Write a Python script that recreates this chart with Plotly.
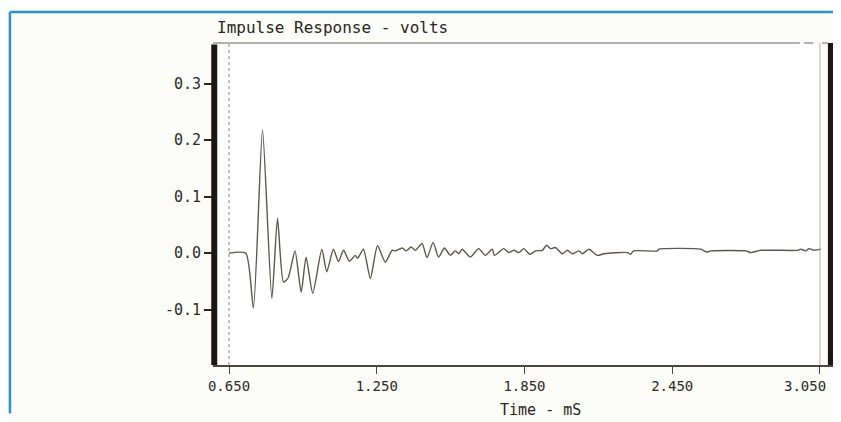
import plotly.graph_objects as go

# Impulse response
time_ms = [0.650, 0.718, 0.749, 0.786, 0.824, 0.847, 0.871, 0.890, 0.918, 0.943,
           0.963, 0.990, 1.027, 1.047, 1.074, 1.095, 1.115, 1.139, 1.163, 1.172,
           1.196, 1.224, 1.253, 1.285, 1.312, 1.325, 1.353, 1.370, 1.389, 1.407,
           1.434, 1.454, 1.479, 1.501, 1.525, 1.549, 1.569, 1.583, 1.597, 1.630,
           1.664, 1.691, 1.719, 1.728, 1.766, 1.786, 1.807, 1.827, 1.847, 1.872,
           1.895, 1.922, 1.940, 1.956, 1.976, 2.003, 2.024, 2.044, 2.071, 2.085,
           2.112, 2.146, 2.173, 2.268, 2.281, 2.293, 2.390, 2.396, 2.566, 2.590,
           2.607, 2.749, 2.769, 2.810, 2.959, 2.973, 2.993, 3.005, 3.025, 3.054]
volts = [0.000, 0.000, -0.097, 0.218, -0.080, 0.062, -0.051, -0.044, 0.004, -0.069,
         -0.007, -0.071, 0.007, -0.033, 0.007, -0.015, 0.005, -0.014, -0.004, -0.009,
         0.007, -0.045, 0.013, -0.016, 0.005, 0.004, 0.009, 0.004, 0.011, 0.005,
         0.017, -0.008, 0.019, -0.007, 0.009, -0.004, 0.004, -0.001, 0.007, -0.007,
         0.008, -0.004, 0.007, -0.004, 0.008, 0.001, 0.005, 0.001, 0.008, -0.002,
         0.004, 0.005, 0.014, 0.008, 0.010, -0.001, 0.005, -0.001, 0.004, -0.001,
         0.007, -0.004, -0.001, 0.001, -0.002, 0.004, 0.004, 0.007, 0.007, 0.002,
         0.004, 0.004, 0.001, 0.005, 0.005, 0.007, 0.004, 0.008, 0.005, 0.007]

x_ticks = [0.65, 1.25, 1.85, 2.45, 3.05]
x_tick_labels = ["0.650", "1.250", "1.850", "2.450", "3.050"]
y_ticks = [0.3, 0.2, 0.1, 0.0, -0.1]
y_tick_labels = ["0.3", "0.2", "0.1", "0.0", "-0.1"]

title_text = "Impulse Response - volts"
x_title = "Time - mS"

FONT = "DejaVu Sans Mono"
INK = "#2e2a25"

# the last tick label sits at the very edge of the page: draw it as an annotation
axis_ticktext = x_tick_labels[:-1] + [""]

fig = go.Figure()
fig.add_trace(go.Scatter(x=time_ms, y=volts, mode="lines",
                         line=dict(color="#5e574b", width=1.4, shape="spline", smoothing=0.6),
                         hoverinfo="skip", showlegend=False))

# the page body has an 8px margin, so the figure is drawn 8px smaller
fig.update_layout(
    width=833, height=414,
    margin=dict(l=205, r=7, t=35, b=57),
    paper_bgcolor="#fcfcf8",
    plot_bgcolor="#ffffff",
    showlegend=False,
    xaxis=dict(range=[0.585, 3.107], tickvals=x_ticks, ticktext=axis_ticktext,
               showgrid=False, zeroline=False, showline=True, linecolor="#4a453f",
               linewidth=1.5, ticks="outside", ticklen=7, tickcolor="#4a453f",
               tickwidth=1, tickfont=dict(family=FONT, size=14, color=INK),
               mirror=False),
    yaxis=dict(range=[-0.198, 0.372], tickvals=y_ticks, ticktext=y_tick_labels,
               showgrid=False, zeroline=False, showline=False,
               ticks="outside", ticklen=8, tickcolor="#2a2520", tickwidth=1.5,
               tickfont=dict(family=FONT, size=15, color=INK)),
    shapes=[
        # blue frame of the page
        dict(type="line", xref="paper", yref="paper", x0=-0.327, x1=1.008,
             y0=1.096, y1=1.096, line=dict(color="#2b93c8", width=2.5)),
        dict(type="line", xref="paper", yref="paper", x0=-0.327, x1=-0.327,
             y0=1.096, y1=-0.15, line=dict(color="#2b93c8", width=2.5)),
        # top border
        dict(type="line", xref="paper", yref="paper", x0=0, x1=0.945,
             y0=1, y1=1, line=dict(color="#6a655d", width=1.2)),
        dict(type="line", xref="paper", yref="paper", x0=0.952, x1=0.99,
             y0=1, y1=1, line=dict(color="#6a655d", width=1.2, dash="dash")),
        # thick left and right bars
        dict(type="line", xref="paper", yref="paper", x0=0.002, x1=0.002,
             y0=0, y1=0.995, line=dict(color="#1c1712", width=6)),
        dict(type="line", xref="paper", yref="paper", x0=0.995, x1=0.995,
             y0=0, y1=1, line=dict(color="#1c1712", width=6)),
        # start / end markers
        dict(type="line", xref="x", yref="paper", x0=0.65, x1=0.65,
             y0=0, y1=1, line=dict(color="#8a857d", width=1, dash="dot")),
        dict(type="line", xref="x", yref="paper", x0=3.05, x1=3.05,
             y0=0, y1=1, line=dict(color="#b5b0a8", width=1)),
    ],
    annotations=[
        dict(text=title_text, xref="paper", yref="paper", x=0.003, y=1.012,
             xanchor="left", yanchor="bottom", showarrow=False,
             font=dict(family=FONT, size=16, color="#2a2520")),
        dict(text=x_title, xref="paper", yref="paper", x=0.527, y=-0.14,
             xanchor="center", yanchor="middle", showarrow=False,
             font=dict(family=FONT, size=15, color="#2a2520")),
        dict(text=x_tick_labels[-1], xref="paper", yref="paper", x=0.99, y=-0.064,
             xanchor="right", yanchor="middle", showarrow=False,
             font=dict(family=FONT, size=14, color=INK)),
    ],
)

fig.write_html("out.html")
